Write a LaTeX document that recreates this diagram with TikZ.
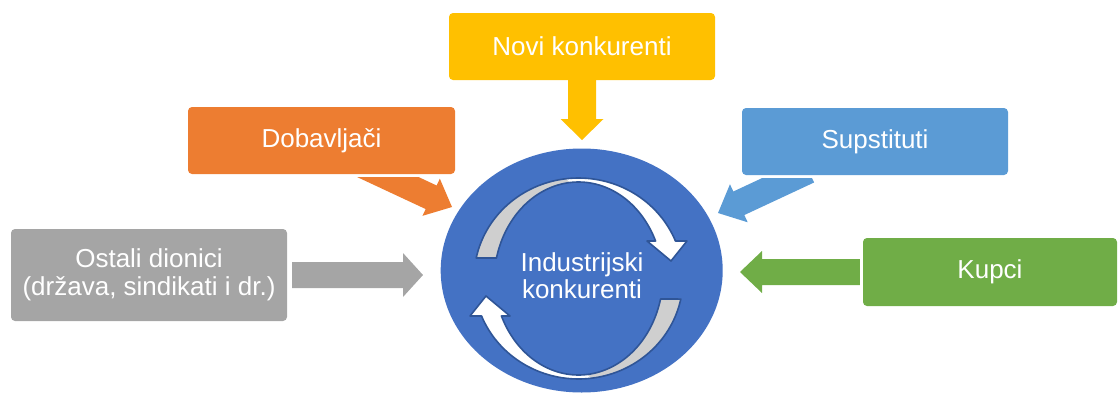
\documentclass[tikz,border=0pt]{standalone}
\usepackage{fontspec}
\setmainfont{Liberation Sans}
\usetikzlibrary{calc,shapes.geometric}
\definecolor{cYellow}{HTML}{FFC000}
\definecolor{cOrange}{HTML}{ED7D31}
\definecolor{cBlue}{HTML}{5B9BD5}
\definecolor{cGrey}{HTML}{A5A5A5}
\definecolor{cGreen}{HTML}{70AD47}
\definecolor{cCircle}{HTML}{4472C4}
\definecolor{cRing}{HTML}{2F5597}
\definecolor{cRingGrey}{HTML}{CFCFCF}
% block arrow: #1 colour, #2 start, #3 tip, #4 half shaft, #5 half head, #6 head length
\newcommand\blockarrow[6]{%
  \coordinate (hb) at ($(#3)!#6!(#2)$);
  \fill[#1] ($(#2)!#4!90:(#3)$) -- ($(hb)!#4!90:(#3)$) -- ($(hb)!#5!90:(#3)$) -- (#3)
    -- ($(hb)!#5!-90:(#3)$) -- ($(hb)!#4!-90:(#3)$) -- ($(#2)!#4!-90:(#3)$) -- cycle;
}
\newcommand\ringpath{%
  plot[domain=168.2:21.9,samples=70] ({578.5+104.5*cos(\x)},{278.5-100.5*sin(\x)})
  -- (687,241) -- (671,261) -- (647,241)
  -- plot[domain=24.2:166.1,samples=70] ({578.5+84.5*cos(\x)},{282-100*sin(\x)}) -- cycle}
\newcommand\ringarrow{%
  \fill[white] \ringpath;
  \fill[cRingGrey] plot[domain=168.2:97,samples=40] ({578.5+104.5*cos(\x)},{278.5-100.5*sin(\x)})
    -- plot[domain=96:166.1,samples=40] ({578.5+84.5*cos(\x)},{282-100*sin(\x)}) -- cycle;
  \draw[cRing, line width=1.6pt, line join=round] \ringpath;
}
\begin{document}
\begin{tikzpicture}[x=1pt,y=-1pt,
  box/.style={rounded corners=4pt, inner sep=0pt, text=white, align=center,
    font=\fontsize{26}{27.5}\selectfont}]
\useasboundingbox (0,0) rectangle (1120,394);
% central circle
\node (core) [ellipse, fill=cCircle, inner sep=0pt, minimum width=282pt, minimum height=244pt] at (581.7,270.5) {};
\ringarrow
\begin{scope}[rotate around={180:(578.5,278.5)}]
  \ringarrow
\end{scope}
\node (coretext) [text=white, align=center, font=\fontsize{26}{27.3}\selectfont] at (582,276) {Industrijski\\konkurenti};
% boxes
\node (novi) [box, fill=cYellow, minimum width=266pt, minimum height=67pt] at (582,46.5) {Novi konkurenti};
\node (dob) [box, fill=cOrange, minimum width=267pt, minimum height=67pt] at (321.5,140.5) {Dobavljači};
\node (sup) [box, fill=cBlue, minimum width=266pt, minimum height=67pt] at (875,141.5) {Supstituti};
\node (ost) [box, fill=cGrey, minimum width=276pt, minimum height=92pt] at (149,275) {Ostali dionici\\(država, sindikati i dr.)};
\node (kup) [box, fill=cGreen, minimum width=254pt, minimum height=68pt] at (990,272) {Kupci};
% arrows
\coordinate (tipN) at (582,140);
\blockarrow{cYellow}{novi.south}{tipN}{14pt}{21.5pt}{21pt}
\coordinate (tipO) at (423,275);
\blockarrow{cGrey}{$(ost.east)+(5,0)$}{tipO}{13pt}{22pt}{20pt}
\coordinate (tipK) at (740,272);
\blockarrow{cGreen}{$(kup.west)+(-3,0)$}{tipK}{13pt}{21pt}{22pt}
\coordinate (tipD) at (452,207);
\coordinate (startD) at (361.4,164.7);
\begin{scope}
  \clip (0,177.5) rectangle (1120,394);
  \blockarrow{cOrange}{startD}{tipD}{13pt}{20.5pt}{23pt}
\end{scope}
\coordinate (tipS) at (718,213);
\coordinate (startS) at (808.6,170.7);
\begin{scope}
  \clip (0,178) rectangle (1120,394);
  \blockarrow{cBlue}{startS}{tipS}{13pt}{21pt}{23pt}
\end{scope}
\end{tikzpicture}
\end{document}
